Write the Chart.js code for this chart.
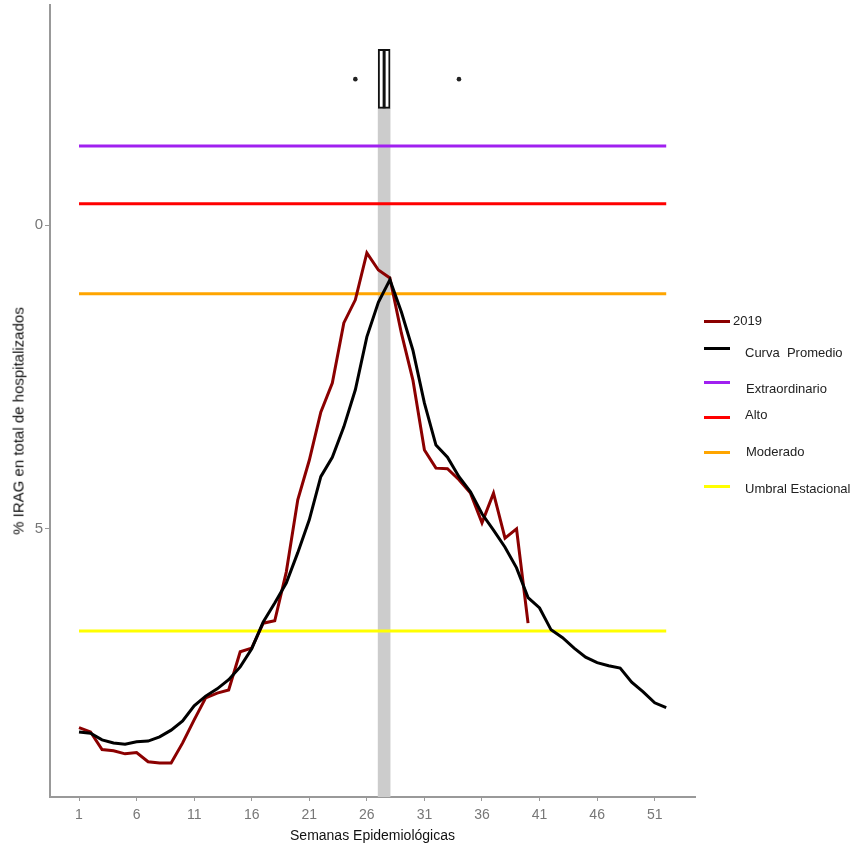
<!DOCTYPE html>
<html>
<head>
<meta charset="utf-8">
<title>IRAG 2019</title>
<script src="https://cdn.jsdelivr.net/npm/chart.js@4.4.1/dist/chart.umd.min.js"></script>
<style>
  html, body { margin: 0; padding: 0; background: #fff; }
  #wrap { position: relative; width: 855px; height: 846px; }
  #leyenda { position: absolute; left: 0; top: 0; font-family: "Liberation Sans", Arial, sans-serif; font-size: 13px; color: #222; }
  .item { position: absolute; white-space: pre; }
  .linea { position: absolute; width: 26px; height: 3px; }
  #tituloY { position: absolute; left: 18px; top: 421px; white-space: nowrap;
    font-family: "Liberation Sans", Arial, sans-serif; font-size: 15px; color: #111;
    transform: translate(-50%, -50%) rotate(-90deg); }
</style>
</head>
<body>
<div id="wrap">
  <canvas id="grafico" width="855" height="846"></canvas>
  <div id="tituloY">% IRAG en total de hospitalizados</div>
  <div id="leyenda"></div>
</div>
<script>
// semanas epidemiologicas
const semanas = [1,2,3,4,5,6,7,8,9,10,11,12,13,14,15,16,17,18,19,20,21,22,23,24,25,26,
  27,28,29,30,31,32,33,34,35,36,37,38,39,40,41,42,43,44,45,46,47,48,49,50,51,52];

// % IRAG 2019 (semanas 1 a 40)
const serie2019 = [8.27,8.34,8.63,8.65,8.70,8.68,8.83,8.85,8.85,8.52,8.14,7.78,7.70,7.65,7.02,6.96,
  6.55,6.51,5.71,4.52,3.87,3.08,2.60,1.61,1.23,0.46,0.74,0.87,1.78,2.55,3.70,4.00,4.01,4.19,4.41,
  4.90,4.41,5.15,5.00,6.55];

// curva promedio
const curvaPromedio = [8.34,8.36,8.47,8.52,8.54,8.50,8.49,8.42,8.31,8.16,7.91,7.75,7.63,7.48,7.27,6.97,
  6.53,6.22,5.89,5.39,4.85,4.14,3.82,3.32,2.71,1.84,1.27,0.90,1.43,2.06,2.93,3.62,3.82,4.14,4.39,
  4.75,5.02,5.30,5.64,6.13,6.30,6.66,6.79,6.96,7.11,7.20,7.25,7.29,7.52,7.68,7.86,7.94];

// umbrales
const umbralNombres = ['Extraordinario', 'Alto', 'Moderado', 'Umbral Estacional'];
const umbralValores = [-1.30, -0.35, 1.13, 6.68];
const umbralColores = ['#A020F0', '#FF0000', '#FFA500', '#FFFF00'];

// caja de la semana pico
const cajaSemana = 27.5;
const cajaRango = [-2.89, -1.92];
const atipicosSemanas = [25, 34];
const atipicosValor = -2.40;

// ticks
const ticksX = [1,6,11,16,21,26,31,36,41,46,51];
const ticksY = [0, 5];
const ejeYMin = -3.62;
const ejeYMax = 9.41;

const fuente = '"Liberation Sans", Arial, sans-serif';

const datasets = [];

// banda gris del pico
datasets.push({
    type: 'bar',
    data: [{ x: cajaSemana, y: [cajaRango[1], ejeYMax] }],
    backgroundColor: '#cccccc',
    barThickness: 12,
    grouped: false,
    order: 20
});

umbralValores.forEach((v, i) => {
    datasets.push({
        type: 'line',
        data: [{ x: semanas[0], y: v }, { x: semanas[semanas.length - 1], y: v }],
        borderColor: umbralColores[i],
        borderWidth: 3,
        pointRadius: 0,
        order: 10 - i
    });
});

datasets.push({
    type: 'line',
    data: serie2019.map((v, i) => ({ x: semanas[i], y: v })),
    borderColor: '#8B0000',
    borderWidth: 3,
    pointRadius: 0,
    tension: 0,
    order: 2
});

datasets.push({
    type: 'line',
    data: curvaPromedio.map((v, i) => ({ x: semanas[i], y: v })),
    borderColor: '#000000',
    borderWidth: 3,
    pointRadius: 0,
    tension: 0,
    order: 1
});

// caja
datasets.push({
    type: 'bar',
    data: [{ x: cajaSemana, y: cajaRango }],
    backgroundColor: '#ffffff',
    borderColor: '#111111',
    borderWidth: 2,
    borderSkipped: false,
    barThickness: 12,
    grouped: false,
    order: 0
});
// mediana
datasets.push({
    type: 'line',
    data: [{ x: cajaSemana, y: cajaRango[0] }, { x: cajaSemana, y: cajaRango[1] }],
    borderColor: '#111111',
    borderWidth: 3,
    pointRadius: 0,
    order: -1
});
// atipicos
datasets.push({
    type: 'scatter',
    data: atipicosSemanas.map(s => ({ x: s, y: atipicosValor })),
    backgroundColor: '#222222',
    borderWidth: 0,
    pointRadius: 2.3,
    order: -1
});

new Chart(document.getElementById('grafico').getContext('2d'), {
    type: 'line',
    data: { datasets: datasets },
    options: {
        responsive: false,
        animation: false,
        devicePixelRatio: 1,
        layout: { padding: { top: 5, right: 160, left: 0, bottom: 0 } },
        plugins: { legend: { display: false }, tooltip: { enabled: false } },
        scales: {
            x: {
                type: 'linear',
                min: -1.52,
                max: 54.5,
                offset: false,
                afterBuildTicks: s => { s.ticks = ticksX.map(v => ({ value: v })); },
                afterFit: s => { s.height = 49; s.paddingLeft = 0; s.paddingRight = 0; },
                grid: { offset: false, drawOnChartArea: false, drawTicks: true, tickLength: 4, color: '#999' },
                border: { display: true, color: '#999', width: 2 },
                ticks: { color: '#777', font: { family: fuente, size: 14 }, padding: 6, maxRotation: 0 },
                title: { display: true, text: 'Semanas Epidemiológicas', color: '#111',
                    font: { family: fuente, size: 14 }, padding: { top: 0, bottom: 1 } }
            },
            y: {
                type: 'linear',
                reverse: true,
                min: ejeYMin,
                max: ejeYMax,
                afterBuildTicks: s => { s.ticks = ticksY.map(v => ({ value: v })); },
                afterFit: s => { s.width = 50; s.paddingTop = 0; s.paddingBottom = 0; },
                grid: { offset: false, drawOnChartArea: false, drawTicks: true, tickLength: 5, color: '#999' },
                border: { display: true, color: '#999', width: 2 },
                ticks: { color: '#777', font: { family: fuente, size: 15 }, padding: 2 },
                title: { display: false }
            }
        }
    }
});

// leyenda
const leyendaItems = [
    { texto: '2019', color: '#8B0000', yLinea: 321, xTexto: 733, yTexto: 321 },
    { texto: 'Curva  Promedio', color: '#000000', yLinea: 348, xTexto: 745, yTexto: 353 },
    { texto: umbralNombres[0], color: umbralColores[0], yLinea: 382, xTexto: 746, yTexto: 389 },
    { texto: umbralNombres[1], color: umbralColores[1], yLinea: 417, xTexto: 745, yTexto: 415 },
    { texto: umbralNombres[2], color: umbralColores[2], yLinea: 452, xTexto: 746, yTexto: 452 },
    { texto: umbralNombres[3], color: umbralColores[3], yLinea: 486, xTexto: 745, yTexto: 489 }
];
const ley = document.getElementById('leyenda');
leyendaItems.forEach(it => {
    const l = document.createElement('div');
    l.className = 'linea';
    l.style.left = '704px';
    l.style.top = (it.yLinea - 1.5) + 'px';
    l.style.background = it.color;
    ley.appendChild(l);
    const t = document.createElement('div');
    t.className = 'item';
    t.textContent = it.texto;
    t.style.left = it.xTexto + 'px';
    t.style.top = (it.yTexto - 8) + 'px';
    ley.appendChild(t);
});
</script>
</body>
</html>
